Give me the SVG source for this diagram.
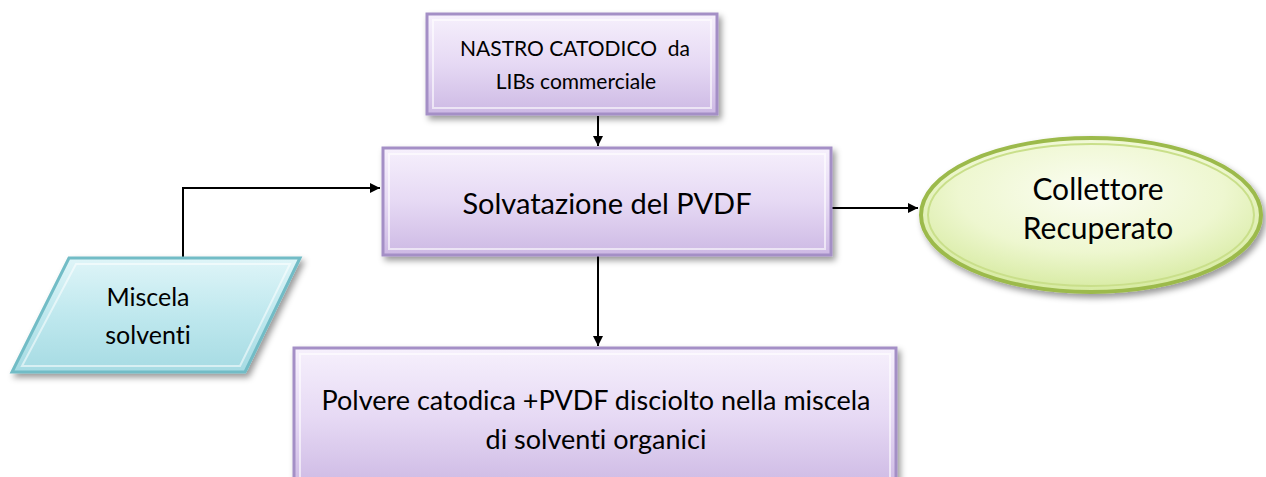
<svg xmlns="http://www.w3.org/2000/svg" width="1266" height="477" viewBox="0 0 1266 477">
<defs>
<linearGradient id="gp" x1="0" y1="0" x2="0" y2="1">
<stop offset="0" stop-color="#f6f0fc"/><stop offset="0.5" stop-color="#e6d9f4"/><stop offset="1" stop-color="#cdb9e4"/>
</linearGradient>
<linearGradient id="gc" x1="0" y1="0" x2="0" y2="1">
<stop offset="0" stop-color="#dff5f8"/><stop offset="0.5" stop-color="#bfe8ee"/><stop offset="1" stop-color="#a6dbe3"/>
</linearGradient>
<radialGradient id="gg" cx="0.5" cy="0.35" r="0.65">
<stop offset="0" stop-color="#fbfdf2"/><stop offset="0.6" stop-color="#eef7d0"/><stop offset="1" stop-color="#d6eaa0"/>
</radialGradient>
<filter id="sh" x="-10%" y="-10%" width="125%" height="130%">
<feDropShadow dx="3" dy="4" stdDeviation="3" flood-color="#000" flood-opacity="0.4"/>
</filter>
<marker id="ar" viewBox="0 0 10 10" refX="10" refY="5" markerWidth="10" markerHeight="10" markerUnits="userSpaceOnUse" orient="auto">
<path d="M0,0 L10,5 L0,10 z" fill="#000"/>
</marker>
<style>
.box{fill:url(#gp);stroke:#a48fc6;stroke-width:3;filter:url(#sh)}
.inner{fill:none;stroke:#ffffff;stroke-opacity:0.6;stroke-width:2}
.t{font-family:Lato,"Open Sans",sans-serif;fill:#000;text-anchor:middle;font-variant-ligatures:none;white-space:pre}
.c{fill:none;stroke:#000;stroke-width:2;marker-end:url(#ar)}
</style>
</defs>
<g id="connectors">
<path class="c" d="M598,116 V146"/>
<path class="c" d="M598,256 V346"/>
<path class="c" d="M832,208 H918"/>
<path class="c" d="M183,257 V188 H380"/>
</g>
<g id="node-nastro">
<rect class="box" x="427" y="14" width="290" height="100"/>
<rect class="inner" x="433" y="20" width="278" height="88"/>
<text class="t" font-size="21" x="575" y="56" xml:space="preserve">NASTRO CATODICO  da</text>
<text class="t" font-size="21" x="576" y="89">LIBs commerciale</text>
</g>
<g id="node-solvatazione">
<rect class="box" x="383" y="148" width="448" height="107"/>
<rect class="inner" x="389" y="154" width="436" height="95"/>
<text class="t" font-size="29" x="607" y="214">Solvatazione del PVDF</text>
</g>
<g id="node-collettore">
<ellipse cx="1091" cy="215" rx="170" ry="77" fill="url(#gg)" stroke="#9cba4c" stroke-width="4" filter="url(#sh)"/>
<ellipse cx="1091" cy="215" rx="163" ry="71" fill="none" stroke="#c9df8a" stroke-width="2"/>
<text class="t" font-size="30" x="1098" y="200">Collettore</text>
<text class="t" font-size="30" x="1098" y="239">Recuperato</text>
</g>
<g id="node-miscela">
<polygon points="69,258 300,258 245,372 12,372" fill="url(#gc)" stroke="#72bcc6" stroke-width="3" filter="url(#sh)"/>
<polygon points="76,264 290,264 240,366 22,366" fill="none" stroke="#ffffff" stroke-opacity="0.55" stroke-width="2"/>
<text class="t" font-size="25" x="148" y="306">Miscela</text>
<text class="t" font-size="25" x="148" y="344">solventi</text>
</g>
<g id="node-polvere">
<rect class="box" x="294" y="348" width="602" height="140"/>
<rect class="inner" x="300" y="354" width="590" height="130"/>
<text class="t" font-size="27" x="596" y="410">Polvere catodica +PVDF disciolto nella miscela</text>
<text class="t" font-size="27" x="596" y="449">di solventi organici</text>
</g>
</svg>
